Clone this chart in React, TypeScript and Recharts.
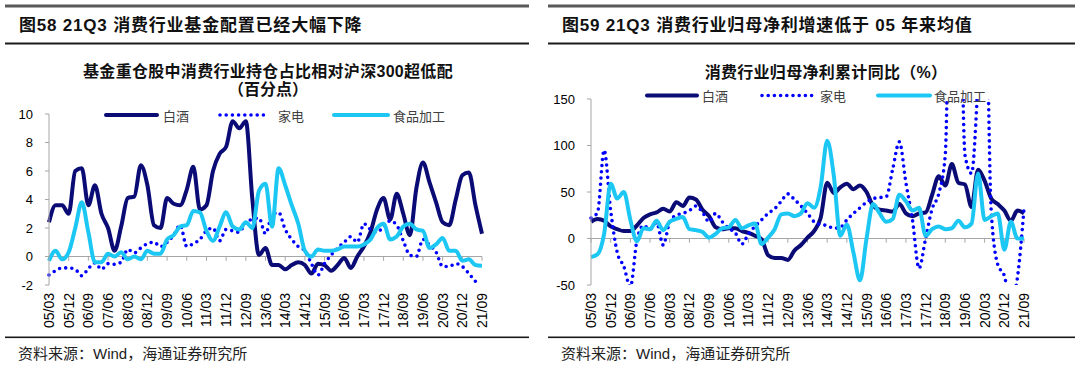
import { Line, LineChart, ReferenceLine, XAxis, YAxis } from 'recharts';

const quarters = [
  '05/03', '05/06', '05/09', '05/12', '06/03', '06/06', '06/09', '06/12',
  '07/03', '07/06', '07/09', '07/12', '08/03', '08/06', '08/09', '08/12',
  '09/03', '09/06', '09/09', '09/12', '10/03', '10/06', '10/09', '10/12',
  '11/03', '11/06', '11/09', '11/12', '12/03', '12/06', '12/09', '12/12',
  '13/03', '13/06', '13/09', '13/12', '14/03', '14/06', '14/09', '14/12',
  '15/03', '15/06', '15/09', '15/12', '16/03', '16/06', '16/09', '16/12',
  '17/03', '17/06', '17/09', '17/12', '18/03', '18/06', '18/09', '18/12',
  '19/03', '19/06', '19/09', '19/12', '20/03', '20/06', '20/09', '20/12',
  '21/03', '21/06', '21/09',
];

const holdingTicks = [-2, 0, 2, 4, 6, 8, 10];
const profitTicks = [-50, 0, 50, 100, 150];

// 基金重仓股持仓占比相对沪深300超低配（百分点）
const baijiuHolding = [
  2.4, 3.6, 3.6, 3.0, 6.0, 6.2, 3.6, 5.0, 3.0, 2.0,
  0.4, 2.1, 4.1, 4.2, 6.4, 5.0, 2.2, 2.0, 4.1, 3.7,
  3.6, 4.7, 6.3, 3.3, 3.6, 6.0, 7.2, 7.7, 9.5, 9.0,
  9.5, 4.0, 0.1, 0.6, -0.6, -0.6, -0.9, -0.6, -0.4, -0.6,
  -1.2, -0.5, -0.6, -1.0, -0.6, -0.1, -0.8, 0.0, 0.7, 1.7,
  3.3, 4.1, 2.6, 4.4, 3.0, 1.5, 4.8, 6.6, 5.2, 3.8,
  2.4, 2.2, 4.0, 5.7, 5.9, 3.6, 1.6,
];
const applianceHolding = [
  -1.3, -1.0, -0.8, -0.8, -0.9, -1.35, -0.85, -0.45, -0.9, -0.5,
  -0.55, -0.4, 0.5, 0.25, 0.6, 0.9, 1.0, 0.7, 1.0, 1.5,
  2.2, 0.7, 0.9, 1.2, 1.8, 2.0, 1.1, 1.9, 1.8, 1.7,
  2.4, 2.6, 2.7, 1.6, 2.9, 3.1, 1.9, 1.2, 0.7, 0.4,
  -0.5, -1.3, -0.5, 0.1, 0.6, 1.0, 1.4, 1.0, 2.3, 1.9,
  1.7, 2.1, 2.5, 2.2, 1.1, 0.1, 0.0, 1.2, 0.8, 0.3,
  -0.7, -0.7, -0.5, -0.7, -1.2, -1.75, null,
];
const foodHolding = [
  -0.3, 0.4, -0.2, 0.3, 2.0, 3.8, 1.7, -0.4, -0.4, 0.2,
  0.0, 0.3, -0.2, 0.0, -0.2, 0.4, 0.2, 0.2, 1.2, 1.5,
  2.1, 2.2, 3.2, 3.1, 1.8, 1.1, 2.1, 3.1, 2.1, 1.9,
  2.4, 2.0, 4.6, 5.1, 2.1, 6.2, 5.0, 3.6, 2.3, 0.4,
  0.0, 0.5, 0.4, 0.4, 0.5, 0.7, 0.7, 0.7, 0.85, 1.2,
  2.0, 2.3, 1.2, 1.4, 2.1, 2.3, 1.9, 1.8, 0.6, 0.85,
  1.3, 0.4, 0.4, -0.3, -0.2, -0.6, -0.65,
];

// 归母净利累计同比（%）
const baijiuProfit = [
  18, 21, 19, 13, 10, 8, 8, 14, 22, 26,
  28, 32, 29, 39, 35, 44, 42, 31, 24, 12,
  10, 11, 11, 8, 6, 3, -1, -18, -21, -21,
  -23, -13, -7, 1, 8, 22, 60, 49, 55, 59,
  53, 57, 50, 35, 31, 30, 29, 37, 27, 24,
  27, 28, 47, 67, 57, 80, 60, 58, 34, 74,
  62, 43, 37, 30, 19, 30, 27,
];
const applianceProfit = [
  22, 28, 95, 30, -15, -30, -52, -2, 14, 10,
  17, -7, 18, 25, 27, 30, 35, 28, 18, 27,
  18, 11, 6, -6, 5, 13, 20, 27, 32, 40,
  48, 42, 35, 27, 18, 15, 14, 11, 12, 20,
  27, 33, 39, 43, 44, 45, 75, 104, 60, 20,
  -32, 0, 32, 48, 90, 400, 380, 90, 70, 170,
  320, 30, -28, -40, -70, -42, 32,
];
const foodProfit = [
  -20, -17, 5, 59, 43, 50, 20, -3, 11, 10,
  19, 9, 18, 21, 23, 10, 9, 7, 1, 5,
  11, 12, 20, 11, 14, 16, -6, 1, 10, 26,
  27, 24, 27, 38, 33, 55, 105, 68, 3, 15,
  -15, -45, 0, 37, 27, 18, 21, 47, 40, 30,
  33, 3, 10, 13, 10, 11, 19, 12, 16, 70,
  20, 24, 27, -12, 18, 0, 0,
];

const NAVY = '#0b0b76';
const BLUE = '#0000ff';
const CYAN = '#1cc7f4';
const AXIS = '#a6a6a6';
const FONT = "'Liberation Sans', Arial, 'Noto Sans CJK SC', sans-serif";
const CJK = "'Noto Sans CJK SC', sans-serif";

const labelledQuarters = quarters.filter((_, i) => i % 3 === 0);

const holdingData = quarters.map((q, i) => ({
  q,
  baijiu: baijiuHolding[i],
  appliance: applianceHolding[i],
  food: foodHolding[i],
}));

const profitData = quarters.map((q, i) => ({
  q,
  baijiu: baijiuProfit[i],
  appliance: applianceProfit[i],
  food: foodProfit[i],
}));

function QuarterTick(props: any) {
  const { x, y, payload } = props;
  return (
    <text
      x={x}
      y={y}
      transform={`rotate(-90, ${x}, ${y})`}
      textAnchor="end"
      dominantBaseline="central"
      fontSize={14}
      fontFamily={FONT}
      fill="#000"
    >
      {payload.value}
    </text>
  );
}

interface PanelProps {
  data: any[];
  domain: [number, number];
  ticks: number[];
  tickDepth: number;
  left: number;
  top: number;
  width: number;
  height: number;
  margin: { top: number; right: number; left: number; bottom: number };
  yWidth: number;
  xHeight: number;
}

function Panel(p: PanelProps) {
  return (
    <div style={{ position: 'absolute', left: p.left, top: p.top }}>
      <LineChart width={p.width} height={p.height} data={p.data} margin={p.margin}>
        <XAxis
          dataKey="q"
          interval={2}
          axisLine={false}
          tickLine={false}
          tickSize={0}
          tickMargin={8}
          height={p.xHeight}
          tick={(t: any) => <QuarterTick {...t} />}
        />
        <YAxis
          domain={p.domain}
          ticks={p.ticks}
          interval={0}
          allowDataOverflow
          width={p.yWidth}
          tickSize={4}
          tickMargin={12}
          axisLine={{ stroke: AXIS }}
          tickLine={{ stroke: AXIS }}
          tick={{ fontSize: 13, fill: '#000', fontFamily: FONT }}
        />
        <ReferenceLine y={0} stroke={AXIS} />
        {labelledQuarters.map((q) => (
          <ReferenceLine
            key={q}
            segment={[
              { x: q, y: 0 },
              { x: q, y: -p.tickDepth },
            ]}
            stroke={AXIS}
          />
        ))}
        <Line
          type="monotone"
          dataKey="baijiu"
          stroke={NAVY}
          strokeWidth={4}
          strokeLinejoin="round"
          dot={false}
          isAnimationActive={false}
        />
        <Line
          type="monotone"
          dataKey="appliance"
          stroke={BLUE}
          strokeWidth={3.6}
          strokeDasharray="0 6.2"
          strokeLinecap="round"
          dot={false}
          isAnimationActive={false}
        />
        <Line
          type="monotone"
          dataKey="food"
          stroke={CYAN}
          strokeWidth={4}
          strokeLinejoin="round"
          dot={false}
          isAnimationActive={false}
        />
      </LineChart>
    </div>
  );
}

function LegendItem({ x0, x1, tx, y, color, dotted, label }: any) {
  return (
    <g>
      <line
        x1={x0}
        x2={x1}
        y1={y}
        y2={y}
        stroke={color}
        strokeWidth={dotted ? 3.6 : 4}
        strokeDasharray={dotted ? '0 6.2' : undefined}
        strokeLinecap="round"
      />
      <text x={tx} y={y} dominantBaseline="central" fontSize={13} fontFamily={CJK} fill="#404040">
        {label}
      </text>
    </g>
  );
}

function Frame({ x0, x1, title, source }: any) {
  return (
    <g>
      <rect x={x0} y={4.5} width={x1 - x0} height={3} fill="#595959" />
      <text
        x={x0 + 14}
        y={25}
        dominantBaseline="central"
        fontSize={17}
        fontWeight={700}
        letterSpacing={0.8}
        fontFamily={FONT}
        fill="#111"
      >
        {title}
      </text>
      <rect x={x0} y={42.5} width={x1 - x0} height={2} fill="#1a1a1a" />
      <rect x={x0} y={336.5} width={x1 - x0} height={1.6} fill="#1a1a1a" />
      <text x={x0 + 13} y={353} dominantBaseline="central" fontSize={15} fontFamily={FONT} fill="#222">
        {source}
      </text>
    </g>
  );
}

export default function App() {
  return (
    <div style={{ position: 'absolute', left: 0, top: 0, width: 1080, height: 367, background: '#fff' }}>
      <Panel
        data={holdingData}
        domain={[-2, 10]}
        ticks={holdingTicks}
        tickDepth={0.3}
        left={0}
        top={100}
        width={500}
        height={240}
        margin={{ top: 14, right: 18, left: 14, bottom: 0 }}
        yWidth={35}
        xHeight={55}
      />
      <Panel
        data={profitData}
        domain={[-50, 150]}
        ticks={profitTicks}
        tickDepth={4.5}
        left={540}
        top={85}
        width={500}
        height={250}
        margin={{ top: 14, right: 16, left: 15, bottom: 0 }}
        yWidth={36}
        xHeight={50}
      />
      <svg
        width={1080}
        height={367}
        style={{ position: 'absolute', left: 0, top: 0, pointerEvents: 'none' }}
      >
        <Frame x0={5} x1={529} title="图58 21Q3 消费行业基金配置已经大幅下降" source="资料来源：Wind，海通证券研究所" />
        <Frame x0={548} x1={1075} title="图59 21Q3 消费行业归母净利增速低于 05 年来均值" source="资料来源：Wind，海通证券研究所" />

        <text x={268} y={71} textAnchor="middle" dominantBaseline="central" fontSize={16} fontWeight={700} letterSpacing={0.3} fontFamily={FONT} fill="#111">
          基金重仓股中消费行业持仓占比相对沪深300超低配
        </text>
        <text x={268} y={89} textAnchor="middle" dominantBaseline="central" fontSize={16} fontWeight={700} fontFamily={FONT} fill="#111">
          （百分点）
        </text>
        <text x={826} y={72} textAnchor="middle" dominantBaseline="central" fontSize={16} fontWeight={700} letterSpacing={0.3} fontFamily={FONT} fill="#111">
          消费行业归母净利累计同比（%）
        </text>

        <LegendItem x0={106} x1={157} tx={163} y={115} color={NAVY} label="白酒" />
        <LegendItem x0={220} x1={266} tx={278} y={115} color={BLUE} dotted label="家电" />
        <LegendItem x0={334} x1={388} tx={393} y={115} color={CYAN} label="食品加工" />

        <LegendItem x0={647} x1={697} tx={702} y={95.5} color={NAVY} label="白酒" />
        <LegendItem x0={762} x1={813} tx={820} y={95.5} color={BLUE} dotted label="家电" />
        <LegendItem x0={878} x1={930} tx={934} y={95.5} color={CYAN} label="食品加工" />
      </svg>
    </div>
  );
}
